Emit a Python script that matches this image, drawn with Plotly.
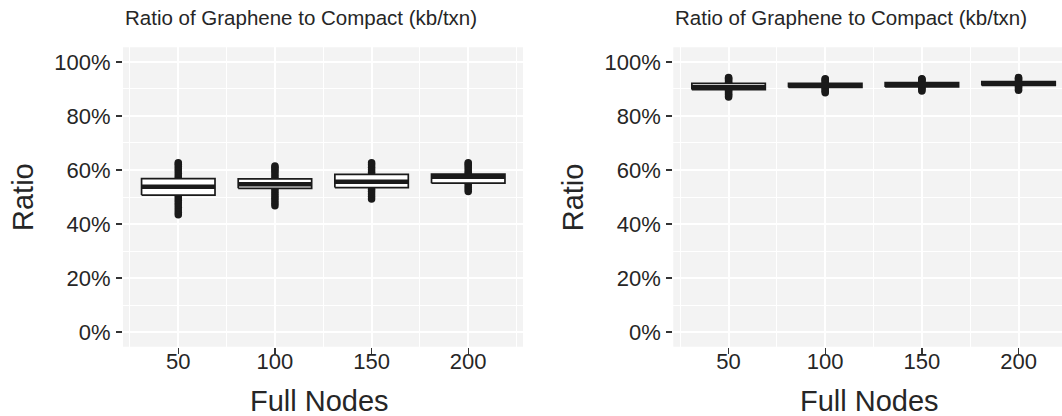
import plotly.graph_objects as go

# ---------------- data ----------------
nodes = [50, 100, 150, 200]
x_ticks = [50, 100, 150, 200]
y_ticks = [0, 0.2, 0.4, 0.6, 0.8, 1.0]
y_tick_labels = ["0%", "20%", "40%", "60%", "80%", "100%"]

panel_title = "Ratio of Graphene to Compact (kb/txn)"
x_title = "Full Nodes"
y_title = "Ratio"

# left panel box statistics
left_q1 = [0.507, 0.532, 0.535, 0.551]
left_median = [0.5375, 0.5475, 0.556, 0.5745]
left_q3 = [0.568, 0.567, 0.584, 0.5845]

# right panel box statistics
right_q1 = [0.8975, 0.906, 0.907, 0.913]
right_median = [0.906, 0.912, 0.915, 0.920]
right_q3 = [0.9205, 0.921, 0.923, 0.927]

# observations (estimated from the dense point bands)
left_points = [
    [0.434, 0.443, 0.452, 0.461, 0.47, 0.479, 0.488, 0.497, 0.506, 0.515, 0.524, 0.533,
     0.542, 0.551, 0.56, 0.569, 0.578, 0.587, 0.596, 0.605, 0.613, 0.621, 0.627],
    [0.468, 0.477, 0.486, 0.495, 0.504, 0.513, 0.522, 0.531, 0.54, 0.549, 0.558, 0.567,
     0.576, 0.585, 0.594, 0.602, 0.609, 0.615],
    [0.493, 0.502, 0.511, 0.52, 0.529, 0.538, 0.547, 0.556, 0.565, 0.574, 0.583, 0.592,
     0.601, 0.61, 0.619, 0.627],
    [0.52, 0.528, 0.536, 0.544, 0.552, 0.56, 0.568, 0.576, 0.584, 0.592, 0.6, 0.608,
     0.616, 0.622, 0.627],
]
right_points = [
    [0.870, 0.875, 0.880, 0.885, 0.890, 0.895, 0.900, 0.905, 0.910, 0.915, 0.920,
     0.925, 0.930, 0.935, 0.939, 0.942],
    [0.886, 0.891, 0.896, 0.901, 0.906, 0.911, 0.916, 0.921, 0.926, 0.931, 0.935, 0.938],
    [0.892, 0.897, 0.902, 0.907, 0.912, 0.917, 0.922, 0.927, 0.932, 0.936, 0.938],
    [0.895, 0.900, 0.905, 0.910, 0.915, 0.920, 0.925, 0.930, 0.935, 0.939, 0.942],
]

box_width = 38

# ---------------- styling ----------------
W, H = 1062, 416
ink = "#1A1A1A"
text_col = "#262626"
panel_bg = "#F3F3F3"
font_family = "Liberation Sans, Arial, Helvetica, sans-serif"

fig = go.Figure()


def add_panel(xa, ya, q1s, meds, q3s, pts):
    # points first (under the boxes)
    for c, p in zip(nodes, pts):
        fig.add_trace(go.Scatter(
            x=[c] * len(p), y=p, mode="markers", xaxis=xa, yaxis=ya,
            marker=dict(color=ink, size=7.5, line=dict(width=0)),
            showlegend=False, hoverinfo="y"))
    for c, q1, m, q3 in zip(nodes, q1s, meds, q3s):
        x0, x1 = c - box_width / 2, c + box_width / 2
        fig.add_trace(go.Scatter(
            x=[x0, x1, x1, x0, x0], y=[q1, q1, q3, q3, q1], mode="lines",
            fill="toself", fillcolor="white", xaxis=xa, yaxis=ya,
            line=dict(color=ink, width=1.7), showlegend=False, hoverinfo="skip"))
        fig.add_trace(go.Scatter(
            x=[x0, x1], y=[m, m], mode="lines", xaxis=xa, yaxis=ya,
            line=dict(color=ink, width=4.5), showlegend=False, hoverinfo="skip"))


add_panel("x", "y", left_q1, left_median, left_q3, left_points)
add_panel("x2", "y2", right_q1, right_median, right_q3, right_points)

px_per_unit = 1.933
left_l, left_r = 123, 523
right_l = 673.3
x_lo = 21.4
xr_left = [x_lo, x_lo + (left_r - left_l) / px_per_unit]
xr_right = [x_lo, x_lo + (W - right_l) / px_per_unit]

top_px, bot_px = 47.3, 346.7
ydom = [1 - bot_px / H, 1 - top_px / H]
yrange = [-0.054, 1.054]

common_x = dict(
    tickvals=x_ticks, ticks="outside", ticklen=6, tickwidth=1.3, tickcolor="#333333",
    showgrid=True, gridcolor="white", gridwidth=2, zeroline=False, showline=False,
    tickfont=dict(size=22, color=text_col, family=font_family),
    ticklabelstandoff=-11,
    minor=dict(tickvals=[25, 75, 125, 175, 225], showgrid=True, gridcolor="white",
               gridwidth=1, ticks=""),
    fixedrange=True,
)
common_y = dict(
    tickvals=y_ticks, ticktext=y_tick_labels, ticks="outside", ticklen=6, tickwidth=1.3,
    tickcolor="#333333", range=yrange, domain=ydom,
    showgrid=True, gridcolor="white", gridwidth=2, zeroline=False, showline=False,
    tickfont=dict(size=22, color=text_col, family=font_family),
    ticklabelstandoff=1,
    minor=dict(tickvals=[0.1, 0.3, 0.5, 0.7, 0.9], showgrid=True, gridcolor="white",
               gridwidth=1, ticks=""),
    fixedrange=True,
)

fig.update_layout(
    width=W, height=H, margin=dict(l=0, r=0, t=0, b=0),
    paper_bgcolor="white", plot_bgcolor=panel_bg,
    font=dict(family=font_family, color=text_col),
    xaxis=dict(common_x, domain=[left_l / W, left_r / W], range=xr_left, anchor="y"),
    yaxis=dict(common_y, anchor="x"),
    xaxis2=dict(common_x, domain=[right_l / W, 1.0], range=xr_right, anchor="y2"),
    yaxis2=dict(common_y, anchor="x2"),
    showlegend=False,
    hovermode=False,
)

annotations = []
for pl, pr in [(left_l, left_r), (right_l, right_l + (left_r - left_l))]:
    annotations.append(dict(
        text=panel_title, x=pl / W, y=1 - 17.5 / H, xref="paper", yref="paper",
        xanchor="left", yanchor="middle", showarrow=False,
        font=dict(size=20.5, color=text_col, family=font_family)))
    annotations.append(dict(
        text=x_title, x=((pl + pr) / 2 - 4) / W, y=1 - 401 / H, xref="paper", yref="paper",
        xanchor="center", yanchor="middle", showarrow=False,
        font=dict(size=29, color=text_col, family=font_family)))
    annotations.append(dict(
        text=y_title, x=(pl - 100) / W, y=1 - 197 / H, xref="paper", yref="paper",
        xanchor="center", yanchor="middle", showarrow=False, textangle=-90,
        font=dict(size=29, color=text_col, family=font_family)))
fig.update_layout(annotations=annotations)

fig.write_html(
    "out.html",
    config={"displayModeBar": False, "staticPlot": True},
    post_script="document.body.style.margin='0';document.body.style.overflow='hidden';",
)
